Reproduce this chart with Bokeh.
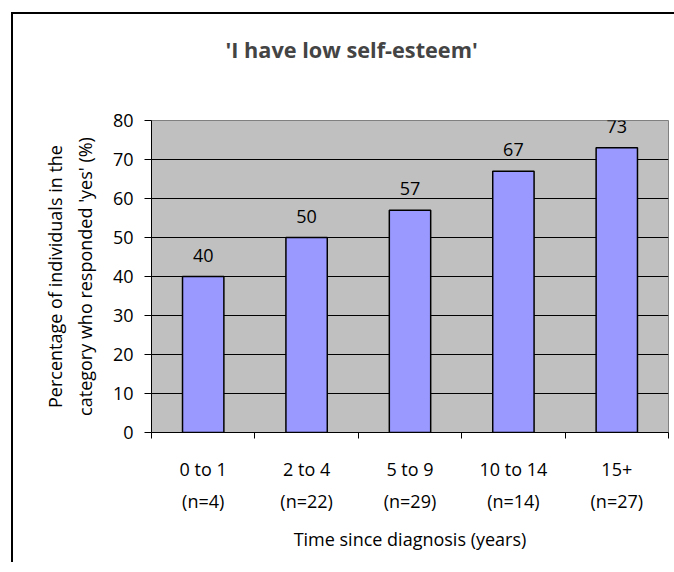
from bokeh.plotting import figure
from bokeh.models import (Range1d, LinearAxis, FixedTicker, Title,
                          ColumnDataSource, LabelSet, Grid)
from bokeh.core.properties import value
from bokeh.embed import file_html
from bokeh.resources import INLINE

categories = ["0 to 1", "2 to 4", "5 to 9", "10 to 14", "15+"]
sample_sizes = [4, 22, 29, 14, 27]
percent_yes = [40, 50, 57, 67, 73]
y_ticks = [0, 10, 20, 30, 40, 50, 60, 70, 80]
grid_ticks = [10, 20, 30, 40, 50, 60, 70]

FONT = "Open Sans"
n_cat = len(categories)
centers = [i + 0.5 for i in range(n_cat)]
edges = list(range(n_cat + 1))
labels = [f"{c}\n(n={n})" for c, n in zip(categories, sample_sizes)]
src = ColumnDataSource(dict(x=centers, top=percent_yes, text=[str(v) for v in percent_yes]))

p = figure(width=666, height=550, x_range=Range1d(0, n_cat), y_range=Range1d(0, 80),
           output_backend="svg", toolbar_location=None,
           x_axis_location=None, y_axis_location=None,
           min_border_left=138, min_border_right=11, min_border_top=106, min_border_bottom=132,
           background_fill_color="#C0C0C0", border_fill_color="white")
p.styles = {"margin-left": "13px", "margin-top": "14px",
            "box-shadow": "-2px -2px 0px 0px black"}
p.outline_line_color = "#808080"
p.outline_line_width = 1
for r in list(p.center):
    if isinstance(r, Grid):
        r.visible = False

# y axis
yax = LinearAxis(ticker=FixedTicker(ticks=y_ticks))
yax.major_tick_out = 7
yax.major_tick_in = 0
yax.minor_tick_line_color = None
yax.axis_line_color = "black"
yax.major_tick_line_color = "black"
yax.major_label_standoff = 11
yax.major_label_text_font = FONT
yax.major_label_text_font_size = "18px"
yax.major_label_text_color = "black"
yax.axis_label = "Percentage of individuals in the\ncategory who responded 'yes' (%)"
yax.axis_label_text_font = FONT
yax.axis_label_text_font_size = "18px"
yax.axis_label_text_font_style = "normal"
yax.axis_label_text_color = "black"
yax.axis_label_text_line_height = 1.23
yax.axis_label_standoff = 13
p.add_layout(yax, "left")

# horizontal gridlines
p.add_layout(Grid(dimension=1, ticker=FixedTicker(ticks=grid_ticks),
                  grid_line_color="black", grid_line_width=1))

# x axis: labels at category centres, tick marks at category boundaries
xax = LinearAxis(ticker=FixedTicker(ticks=centers, minor_ticks=edges),
                 major_label_overrides={c: lab for c, lab in zip(centers, labels)})
xax.axis_line_color = "black"
xax.major_tick_line_color = None
xax.major_tick_out = 0
xax.major_tick_in = 0
xax.minor_tick_line_color = "black"
xax.minor_tick_out = 6
xax.minor_tick_in = 0
xax.major_label_standoff = 18
xax.major_label_text_font = FONT
xax.major_label_text_font_size = "18px"
xax.major_label_text_color = "black"
xax.major_label_text_line_height = 1.35
xax.axis_label = "Time since diagnosis (years)"
xax.axis_label_text_font = FONT
xax.axis_label_text_font_size = "18px"
xax.axis_label_text_font_style = "normal"
xax.axis_label_text_color = "black"
xax.axis_label_standoff = 11
p.add_layout(xax, "below")

p.vbar(x="x", top="top", width=0.4, source=src, fill_color="#9999FF",
       line_color="black", line_width=1.5)

p.add_layout(LabelSet(x="x", y="top", text="text", source=src, text_align="center",
                      text_baseline="alphabetic", y_offset=15, text_font=value(FONT),
                      text_font_size=value("18px"), text_color="black"))

# spacing between chart title and plot area
p.add_layout(Title(text=" ", text_font_size="10px", standoff=32), "above")

p.title.text = "'I have low self-esteem'"
p.title.text_font = FONT
p.title.text_font_size = "21.7px"
p.title.text_font_style = "bold"
p.title.align = "left"
p.title.vertical_align = "top"
p.title.offset = 74
p.title.standoff = 20

open("out.html", "w").write(file_html(p, INLINE))
